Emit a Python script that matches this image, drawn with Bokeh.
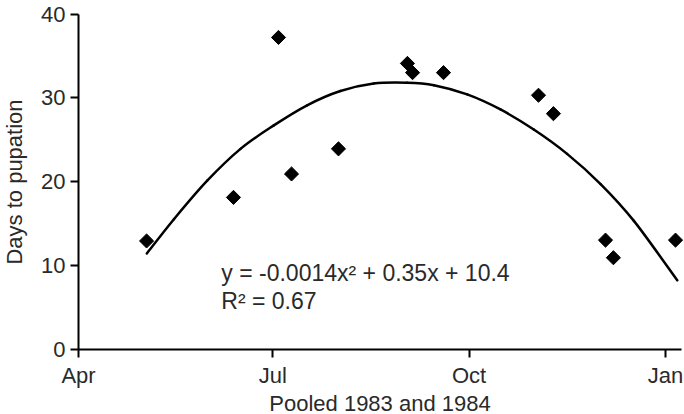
import math
from bokeh.plotting import figure
from bokeh.models import Range1d, FixedTicker, Label
from bokeh.embed import file_html
from bokeh.resources import INLINE

# Observations: days after 1 April (pooled 1983 and 1984) and days to pupation
obs_day = [31.9, 72.6, 93.7, 99.8, 121.8, 154.1, 156.5, 171.0, 215.5, 222.5, 246.9, 250.6, 279.7]
days_to_pupation = [12.9, 18.1, 37.2, 20.9, 23.9, 34.1, 33.0, 33.0, 30.3, 28.1, 13.0, 10.9, 13.0]

# Fitted polynomial trend line
trend_day = [32.0, 44.7, 60.3, 75.9, 91.5, 107.1, 122.7, 138.3, 154.0, 166.5,
             182.1, 197.7, 213.3, 228.9, 244.6, 260.2, 280.5]
trend_value = [11.4, 15.5, 20.1, 23.9, 26.7, 29.1, 30.8, 31.7, 31.8, 31.5,
               30.4, 28.6, 26.2, 23.3, 19.7, 15.3, 8.2]

month_ticks = [0, 91, 183, 275]
month_labels = ["Apr", "Jul", "Oct", "Jan"]
y_ticks = [0, 10, 20, 30, 40]
Y_MIN, Y_MAX = 0, 40
X_MIN, X_MAX = 0, 282.5

x_title = "Pooled 1983 and 1984"
y_title = "Days to pupation"
equation_text = "y = -0.0014x\u00b2 + 0.35x + 10.4"
r2_text = "R\u00b2 = 0.67"

FONT = "Liberation Sans"
TEXT_COLOR = "#2a2a2a"
FS = "22px"

# layout in pixels of the canvas (frame covers the whole canvas; axes sit at fixed locations)
W, H = 684, 414
ORIGIN_X = 78        # pixel column of x = 0
PX_PER_DAY = 2.1345
TOP_PX = 13.5        # pixel row of y = 40
ZERO_PX = 348.5      # pixel row of y = 0
ppu = (ZERO_PX - TOP_PX) / (Y_MAX - Y_MIN)
x_lo = X_MIN - ORIGIN_X / PX_PER_DAY
x_hi = X_MIN + (W - ORIGIN_X) / PX_PER_DAY
y_lo = Y_MIN - (H - ZERO_PX) / ppu
y_hi = Y_MAX + TOP_PX / ppu

p = figure(width=W, height=H, output_backend="svg", toolbar_location=None,
           x_range=Range1d(x_lo, x_hi), y_range=Range1d(y_lo, y_hi),
           min_border_left=0, min_border_right=0, min_border_top=0, min_border_bottom=0)
p.outline_line_color = None
p.grid.visible = False
p.background_fill_color = "white"
p.border_fill_color = "white"

for ax in (p.xaxis[0], p.yaxis[0]):
    ax.axis_line_color = "black"
    ax.axis_line_width = 2
    ax.major_tick_line_color = "black"
    ax.major_tick_line_width = 2
    ax.major_tick_in = 0
    ax.major_tick_out = 8
    ax.minor_tick_line_color = None
    ax.major_label_text_font = FONT
    ax.major_label_text_font_size = FS
    ax.major_label_text_color = TEXT_COLOR
    ax.axis_label_text_font = FONT
    ax.axis_label_text_font_size = FS
    ax.axis_label_text_color = TEXT_COLOR
    ax.axis_label_text_font_style = "normal"

p.xaxis.ticker = FixedTicker(ticks=month_ticks)
p.xaxis.major_label_overrides = {t: l for t, l in zip(month_ticks, month_labels)}
p.xaxis.fixed_location = Y_MIN
p.xaxis.bounds = (X_MIN, X_MAX)
p.xaxis.major_label_standoff = 6
p.xaxis.axis_label = x_title
p.xaxis.axis_label_standoff = -1

p.yaxis.ticker = FixedTicker(ticks=y_ticks)
p.yaxis.fixed_location = X_MIN
p.yaxis.bounds = (Y_MIN, Y_MAX)
p.yaxis.major_label_standoff = 5
p.yaxis.axis_label = y_title
p.yaxis.axis_label_standoff = 11

# smooth (Catmull-Rom style) rendering of the read trend-line points
n = len(trend_day)
x0s, y0s, x1s, y1s, cx0, cy0, cx1, cy1 = ([] for _ in range(8))
for i in range(n - 1):
    a = max(i - 1, 0)
    b = min(i + 2, n - 1)
    x0s.append(trend_day[i]); y0s.append(trend_value[i])
    x1s.append(trend_day[i + 1]); y1s.append(trend_value[i + 1])
    cx0.append(trend_day[i] + (trend_day[i + 1] - trend_day[a]) / 6)
    cy0.append(trend_value[i] + (trend_value[i + 1] - trend_value[a]) / 6)
    cx1.append(trend_day[i + 1] - (trend_day[b] - trend_day[i]) / 6)
    cy1.append(trend_value[i + 1] - (trend_value[b] - trend_value[i]) / 6)
p.bezier(x0=x0s, y0=y0s, x1=x1s, y1=y1s, cx0=cx0, cy0=cy0, cx1=cx1, cy1=cy1,
         line_width=2.5, line_color="black", line_cap="round")

p.scatter(obs_day, days_to_pupation, marker="square", size=10, angle=math.pi / 4,
          fill_color="black", line_color="black")

for txt, yy in ((equation_text, 9.13), (r2_text, 5.79)):
    p.add_layout(Label(x=66.9, y=yy, text=txt, text_font=FONT, text_font_size="23px",
                       text_color=TEXT_COLOR, text_baseline="alphabetic", text_align="left"))

open("out.html", "w").write(file_html(p, INLINE))
